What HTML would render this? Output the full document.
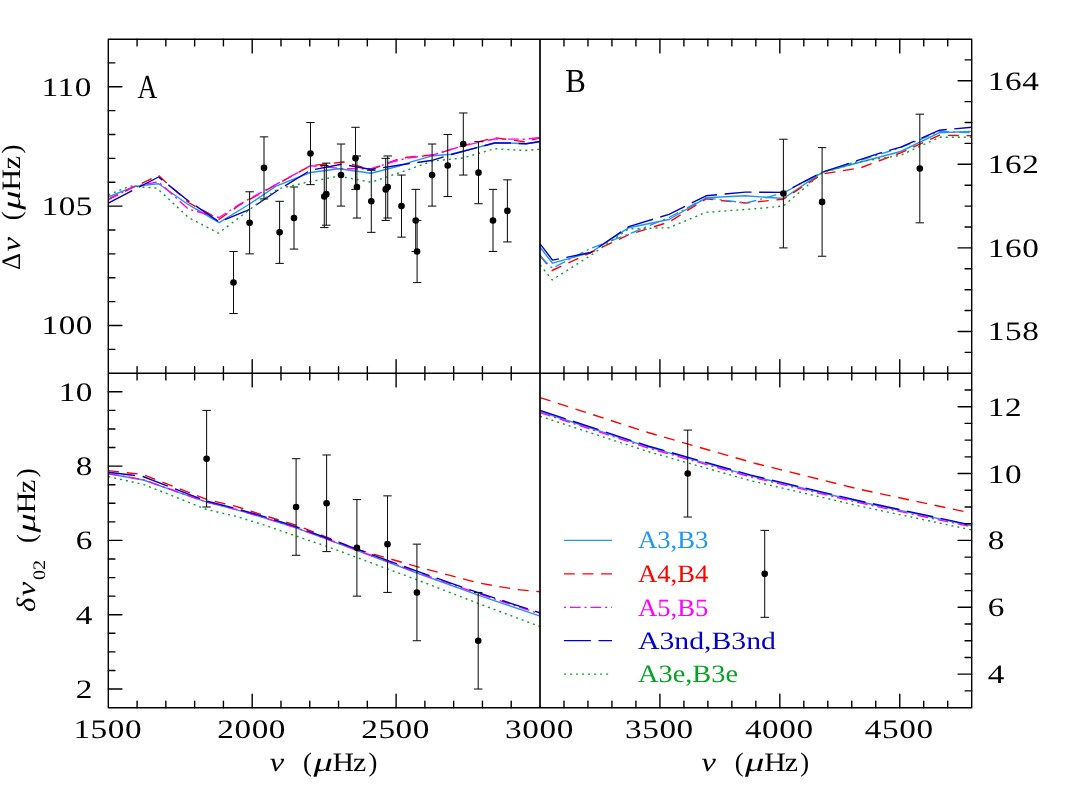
<!DOCTYPE html>
<html><head><meta charset="utf-8"><title>chart</title>
<style>
html,body{margin:0;padding:0;background:#fff;}
body{width:1067px;height:797px;overflow:hidden;font-family:"Liberation Serif",serif;}
svg{display:block;will-change:transform;opacity:0.9999;-webkit-font-smoothing:antialiased;text-rendering:geometricPrecision}
</style></head><body>
<svg width="1067" height="797" viewBox="0 0 1067 797">
<rect x="0" y="0" width="1067" height="797" fill="#fff"/>
<g>
<polyline points="108.3,197.0 134.5,186.4 158.5,183.7 188.5,204.7 219.2,222.7 249.6,204.0 276.0,186.2 310.5,172.5 339.0,168.7 371.2,173.2 400.0,165.7 412.0,161.7 433.0,155.7 451.0,154.3 494.5,143.0 509.5,143.0 526.0,143.8 540.1,141.8" fill="none" stroke="#2196F3" stroke-width="1.4" stroke-linejoin="round"/>
<polyline points="108.3,199.5 134.5,186.7 158.5,175.5 188.5,202.5 219.2,219.3 240.0,204.7 310.5,165.7 343.5,162.0 371.2,169.5 397.5,159.3 407.5,157.2 433.0,155.0 463.0,145.8 494.5,137.7 524.5,141.8 540.1,137.7" fill="none" stroke="#FF0000" stroke-width="1.4" stroke-dasharray="10.9 7.7" stroke-linejoin="round"/>
<polyline points="108.3,199.2 134.5,186.4 158.5,181.8 188.5,209.2 219.2,217.5 240.0,204.0 310.5,165.7 343.5,168.7 371.2,168.7 390.0,162.5 407.5,158.0 433.0,155.0 463.0,145.8 494.5,139.0 524.5,139.2 540.1,137.7" fill="none" stroke="#FF00FF" stroke-width="1.4" stroke-dasharray="10.7 3.9 2.1 3.9" stroke-linejoin="round"/>
<polyline points="108.3,203.2 134.5,189.5 158.5,177.0 188.5,201.0 219.2,222.0 250.0,209.2 277.5,190.5 310.5,170.2 342.0,164.2 371.2,169.5 400.0,165.0 412.0,163.2 433.0,160.2 451.5,154.5 494.5,143.0 509.5,143.0 526.0,143.8 540.1,141.5" fill="none" stroke="#0000C8" stroke-width="1.4" stroke-dasharray="27 7.6" stroke-linejoin="round"/>
<polyline points="108.3,195.0 130.0,186.0 157.0,188.2 188.5,217.5 218.5,233.2 260.0,201.7 277.5,189.0 310.5,181.5 339.0,176.2 371.2,182.2 400.0,172.5 433.0,161.0 463.0,158.0 494.5,148.7 524.5,150.5 540.1,149.3" fill="none" stroke="#0AA028" stroke-width="1.4" stroke-dasharray="2 4" stroke-linejoin="round"/>
<polyline points="540.1,247.3 552.5,263.2 590.7,252.5 628.8,227.7 669.0,219.5 706.1,197.8 745.3,195.8 783.4,198.5 822.1,172.3 900.7,151.5 939.6,132.7 971.7,131.4" fill="none" stroke="#2196F3" stroke-width="1.4" stroke-linejoin="round"/>
<polyline points="540.1,255.5 552.0,270.5 590.7,252.6 628.8,234.6 669.0,222.0 706.1,198.9 745.3,203.0 783.4,199.2 822.1,174.1 860.5,167.8 900.7,152.8 939.6,135.2 971.7,135.7" fill="none" stroke="#FF0000" stroke-width="1.4" stroke-dasharray="10.9 7.7" stroke-linejoin="round"/>
<polyline points="540.1,256.3 552.3,268.2 590.7,248.4 628.8,234.1 669.0,217.5 706.1,197.8 745.3,203.0 756.0,200.5 783.4,192.9 822.1,172.3 900.7,147.7 939.6,131.4 971.7,132.7" fill="none" stroke="#2196F3" stroke-width="1.4" stroke-dasharray="10.7 3.9 2.1 3.9" stroke-linejoin="round"/>
<polyline points="540.1,243.8 552.5,260.1 590.7,252.5 628.8,226.7 669.0,214.3 706.1,195.8 745.3,192.1 783.4,192.4 822.1,172.3 880.6,152.8 900.7,147.2 939.6,130.2 971.7,127.2" fill="none" stroke="#0000C8" stroke-width="1.4" stroke-dasharray="27 7.6" stroke-linejoin="round"/>
<polyline points="540.1,265.0 552.2,279.9 590.7,255.4 628.8,228.8 669.0,227.7 706.1,212.3 755.0,208.8 783.4,206.0 822.1,172.9 860.5,161.6 900.7,155.3 939.6,137.2 971.7,137.2" fill="none" stroke="#0AA028" stroke-width="1.4" stroke-dasharray="2 4" stroke-linejoin="round"/>
<polyline points="108.3,473.7 143.5,480.0 185.0,494.6 206.6,502.1 236.0,509.6 265.0,518.0 296.1,527.9 326.6,539.1 416.9,573.0 478.2,595.1 540.1,616.2" fill="none" stroke="#2196F3" stroke-width="1.4" stroke-linejoin="round"/>
<polyline points="108.3,470.6 142.9,474.5 206.6,499.4 236.0,506.4 265.0,515.7 296.1,525.2 326.6,537.2 356.9,549.3 416.9,566.6 478.2,582.9 515.8,589.4 540.1,591.8" fill="none" stroke="#FF0000" stroke-width="1.4" stroke-dasharray="10.9 7.7" stroke-linejoin="round"/>
<polyline points="108.3,473.5 143.5,479.8 185.0,494.4 206.6,501.9 236.0,509.4 265.0,517.8 296.1,527.7 326.6,538.9 416.9,572.2 478.2,593.6 540.1,614.0" fill="none" stroke="#FF00FF" stroke-width="1.4" stroke-dasharray="10.7 3.9 2.1 3.9" stroke-linejoin="round"/>
<polyline points="108.3,472.3 142.9,476.5 206.6,501.1 236.0,508.6 265.0,516.9 296.1,526.7 326.6,538.0 416.9,571.2 478.2,592.7 540.1,612.9" fill="none" stroke="#0000C8" stroke-width="1.4" stroke-dasharray="27 7.6" stroke-linejoin="round"/>
<polyline points="108.3,476.6 144.0,484.6 183.0,500.0 206.6,509.5 236.0,516.3 265.0,525.3 296.1,536.1 326.6,546.3 416.9,579.8 478.2,603.4 540.1,626.6" fill="none" stroke="#0AA028" stroke-width="1.4" stroke-dasharray="2 4" stroke-linejoin="round"/>
<polyline points="540.1,411.5 648.0,446.8 750.0,475.6 860.0,501.7 971.7,525.8" fill="none" stroke="#2196F3" stroke-width="1.4" stroke-linejoin="round"/>
<polyline points="540.1,397.6 648.0,432.5 754.5,463.2 860.0,489.4 971.7,513.1" fill="none" stroke="#FF0000" stroke-width="1.4" stroke-dasharray="10.9 7.7" stroke-linejoin="round"/>
<polyline points="540.1,412.6 648.0,448.0 750.0,476.8 860.0,502.9 971.7,526.9" fill="none" stroke="#FF00FF" stroke-width="1.4" stroke-dasharray="10.7 3.9 2.1 3.9" stroke-linejoin="round"/>
<polyline points="540.1,410.4 648.0,446.0 750.0,474.9 860.0,501.0 971.7,525.1" fill="none" stroke="#0000C8" stroke-width="1.4" stroke-dasharray="27 7.6" stroke-linejoin="round"/>
<polyline points="540.1,416.3 648.0,451.6 750.0,480.5 860.0,506.2 971.7,529.9" fill="none" stroke="#0AA028" stroke-width="1.4" stroke-dasharray="2 4" stroke-linejoin="round"/>
</g>
<g stroke="#111" stroke-width="1.05" fill="#000">
<line x1="233.50" y1="251.47" x2="233.50" y2="313.55" />
<line x1="229.30" y1="251.47" x2="237.70" y2="251.47" />
<line x1="229.30" y1="313.55" x2="237.70" y2="313.55" />
<circle cx="233.50" cy="282.51" r="3.3" stroke="none"/>
<line x1="249.60" y1="191.77" x2="249.60" y2="253.86" />
<line x1="245.40" y1="191.77" x2="253.80" y2="191.77" />
<line x1="245.40" y1="253.86" x2="253.80" y2="253.86" />
<circle cx="249.60" cy="222.82" r="3.3" stroke="none"/>
<line x1="264.00" y1="136.85" x2="264.00" y2="198.94" />
<line x1="259.80" y1="136.85" x2="268.20" y2="136.85" />
<line x1="259.80" y1="198.94" x2="268.20" y2="198.94" />
<circle cx="264.00" cy="167.89" r="3.3" stroke="none"/>
<line x1="279.60" y1="201.32" x2="279.60" y2="263.41" />
<line x1="275.40" y1="201.32" x2="283.80" y2="201.32" />
<line x1="275.40" y1="263.41" x2="283.80" y2="263.41" />
<circle cx="279.60" cy="232.37" r="3.3" stroke="none"/>
<line x1="294.00" y1="187.00" x2="294.00" y2="249.08" />
<line x1="289.80" y1="187.00" x2="298.20" y2="187.00" />
<line x1="289.80" y1="249.08" x2="298.20" y2="249.08" />
<circle cx="294.00" cy="218.04" r="3.3" stroke="none"/>
<line x1="310.50" y1="122.53" x2="310.50" y2="184.61" />
<line x1="306.30" y1="122.53" x2="314.70" y2="122.53" />
<line x1="306.30" y1="184.61" x2="314.70" y2="184.61" />
<circle cx="310.50" cy="153.57" r="3.3" stroke="none"/>
<line x1="324.30" y1="165.51" x2="324.30" y2="227.59" />
<line x1="320.10" y1="165.51" x2="328.50" y2="165.51" />
<line x1="320.10" y1="227.59" x2="328.50" y2="227.59" />
<circle cx="324.30" cy="196.55" r="3.3" stroke="none"/>
<line x1="326.30" y1="163.12" x2="326.30" y2="225.20" />
<line x1="322.10" y1="163.12" x2="330.50" y2="163.12" />
<line x1="322.10" y1="225.20" x2="330.50" y2="225.20" />
<circle cx="326.30" cy="194.16" r="3.3" stroke="none"/>
<line x1="341.00" y1="144.02" x2="341.00" y2="206.10" />
<line x1="336.80" y1="144.02" x2="345.20" y2="144.02" />
<line x1="336.80" y1="206.10" x2="345.20" y2="206.10" />
<circle cx="341.00" cy="175.06" r="3.3" stroke="none"/>
<line x1="355.50" y1="127.30" x2="355.50" y2="189.38" />
<line x1="351.30" y1="127.30" x2="359.70" y2="127.30" />
<line x1="351.30" y1="189.38" x2="359.70" y2="189.38" />
<circle cx="355.50" cy="158.34" r="3.3" stroke="none"/>
<line x1="356.90" y1="155.96" x2="356.90" y2="218.04" />
<line x1="352.70" y1="155.96" x2="361.10" y2="155.96" />
<line x1="352.70" y1="218.04" x2="361.10" y2="218.04" />
<circle cx="356.90" cy="187.00" r="3.3" stroke="none"/>
<line x1="371.30" y1="170.28" x2="371.30" y2="232.37" />
<line x1="367.10" y1="170.28" x2="375.50" y2="170.28" />
<line x1="367.10" y1="232.37" x2="375.50" y2="232.37" />
<circle cx="371.30" cy="201.32" r="3.3" stroke="none"/>
<line x1="385.70" y1="158.34" x2="385.70" y2="220.43" />
<line x1="381.50" y1="158.34" x2="389.90" y2="158.34" />
<line x1="381.50" y1="220.43" x2="389.90" y2="220.43" />
<circle cx="385.70" cy="189.38" r="3.3" stroke="none"/>
<line x1="387.70" y1="155.96" x2="387.70" y2="218.04" />
<line x1="383.50" y1="155.96" x2="391.90" y2="155.96" />
<line x1="383.50" y1="218.04" x2="391.90" y2="218.04" />
<circle cx="387.70" cy="187.00" r="3.3" stroke="none"/>
<line x1="401.50" y1="175.06" x2="401.50" y2="237.14" />
<line x1="397.30" y1="175.06" x2="405.70" y2="175.06" />
<line x1="397.30" y1="237.14" x2="405.70" y2="237.14" />
<circle cx="401.50" cy="206.10" r="3.3" stroke="none"/>
<line x1="415.70" y1="189.38" x2="415.70" y2="251.47" />
<line x1="411.50" y1="189.38" x2="419.90" y2="189.38" />
<line x1="411.50" y1="251.47" x2="419.90" y2="251.47" />
<circle cx="415.70" cy="220.43" r="3.3" stroke="none"/>
<line x1="417.10" y1="220.43" x2="417.10" y2="282.51" />
<line x1="412.90" y1="220.43" x2="421.30" y2="220.43" />
<line x1="412.90" y1="282.51" x2="421.30" y2="282.51" />
<circle cx="417.10" cy="251.47" r="3.3" stroke="none"/>
<line x1="432.10" y1="144.02" x2="432.10" y2="206.10" />
<line x1="427.90" y1="144.02" x2="436.30" y2="144.02" />
<line x1="427.90" y1="206.10" x2="436.30" y2="206.10" />
<circle cx="432.10" cy="175.06" r="3.3" stroke="none"/>
<line x1="447.70" y1="134.46" x2="447.70" y2="196.55" />
<line x1="443.50" y1="134.46" x2="451.90" y2="134.46" />
<line x1="443.50" y1="196.55" x2="451.90" y2="196.55" />
<circle cx="447.70" cy="165.51" r="3.3" stroke="none"/>
<line x1="463.30" y1="112.97" x2="463.30" y2="175.06" />
<line x1="459.10" y1="112.97" x2="467.50" y2="112.97" />
<line x1="459.10" y1="175.06" x2="467.50" y2="175.06" />
<circle cx="463.30" cy="144.02" r="3.3" stroke="none"/>
<line x1="478.50" y1="141.63" x2="478.50" y2="203.71" />
<line x1="474.30" y1="141.63" x2="482.70" y2="141.63" />
<line x1="474.30" y1="203.71" x2="482.70" y2="203.71" />
<circle cx="478.50" cy="172.67" r="3.3" stroke="none"/>
<line x1="493.00" y1="189.38" x2="493.00" y2="251.47" />
<line x1="488.80" y1="189.38" x2="497.20" y2="189.38" />
<line x1="488.80" y1="251.47" x2="497.20" y2="251.47" />
<circle cx="493.00" cy="220.43" r="3.3" stroke="none"/>
<line x1="507.40" y1="179.83" x2="507.40" y2="241.92" />
<line x1="503.20" y1="179.83" x2="511.60" y2="179.83" />
<line x1="503.20" y1="241.92" x2="511.60" y2="241.92" />
<circle cx="507.40" cy="210.88" r="3.3" stroke="none"/>
<line x1="783.40" y1="139.24" x2="783.40" y2="247.89" />
<line x1="779.20" y1="139.24" x2="787.60" y2="139.24" />
<line x1="779.20" y1="247.89" x2="787.60" y2="247.89" />
<circle cx="783.40" cy="193.56" r="3.3" stroke="none"/>
<line x1="822.10" y1="147.60" x2="822.10" y2="256.25" />
<line x1="817.90" y1="147.60" x2="826.30" y2="147.60" />
<line x1="817.90" y1="256.25" x2="826.30" y2="256.25" />
<circle cx="822.10" cy="201.92" r="3.3" stroke="none"/>
<line x1="919.80" y1="114.17" x2="919.80" y2="222.82" />
<line x1="915.60" y1="114.17" x2="924.00" y2="114.17" />
<line x1="915.60" y1="222.82" x2="924.00" y2="222.82" />
<circle cx="919.80" cy="168.49" r="3.3" stroke="none"/>
<line x1="206.60" y1="410.40" x2="206.60" y2="506.99" />
<line x1="202.40" y1="410.40" x2="210.80" y2="410.40" />
<line x1="202.40" y1="506.99" x2="210.80" y2="506.99" />
<circle cx="206.60" cy="458.70" r="3.3" stroke="none"/>
<line x1="296.10" y1="458.69" x2="296.10" y2="555.28" />
<line x1="291.90" y1="458.69" x2="300.30" y2="458.69" />
<line x1="291.90" y1="555.28" x2="300.30" y2="555.28" />
<circle cx="296.10" cy="506.99" r="3.3" stroke="none"/>
<line x1="326.60" y1="454.98" x2="326.60" y2="551.57" />
<line x1="322.40" y1="454.98" x2="330.80" y2="454.98" />
<line x1="322.40" y1="551.57" x2="330.80" y2="551.57" />
<circle cx="326.60" cy="503.27" r="3.3" stroke="none"/>
<line x1="356.90" y1="499.56" x2="356.90" y2="596.15" />
<line x1="352.70" y1="499.56" x2="361.10" y2="499.56" />
<line x1="352.70" y1="596.15" x2="361.10" y2="596.15" />
<circle cx="356.90" cy="547.86" r="3.3" stroke="none"/>
<line x1="387.50" y1="495.85" x2="387.50" y2="592.43" />
<line x1="383.30" y1="495.85" x2="391.70" y2="495.85" />
<line x1="383.30" y1="592.43" x2="391.70" y2="592.43" />
<circle cx="387.50" cy="544.14" r="3.3" stroke="none"/>
<line x1="416.90" y1="544.14" x2="416.90" y2="640.73" />
<line x1="412.70" y1="544.14" x2="421.10" y2="544.14" />
<line x1="412.70" y1="640.73" x2="421.10" y2="640.73" />
<circle cx="416.90" cy="592.44" r="3.3" stroke="none"/>
<line x1="478.20" y1="592.44" x2="478.20" y2="689.03" />
<line x1="474.00" y1="592.44" x2="482.40" y2="592.44" />
<line x1="474.00" y1="689.03" x2="482.40" y2="689.03" />
<circle cx="478.20" cy="640.73" r="3.3" stroke="none"/>
<line x1="687.70" y1="430.09" x2="687.70" y2="517.02" />
<line x1="683.50" y1="430.09" x2="691.90" y2="430.09" />
<line x1="683.50" y1="517.02" x2="691.90" y2="517.02" />
<circle cx="687.70" cy="473.56" r="3.3" stroke="none"/>
<line x1="764.70" y1="530.39" x2="764.70" y2="617.33" />
<line x1="760.50" y1="530.39" x2="768.90" y2="530.39" />
<line x1="760.50" y1="617.33" x2="768.90" y2="617.33" />
<circle cx="764.70" cy="573.86" r="3.3" stroke="none"/>
</g>
<g stroke="#000" stroke-width="1.4" fill="none" stroke-linecap="round">
<rect x="108.3" y="39.3" width="863.40" height="668.40" stroke-linejoin="round"/>
<line x1="540.00" y1="39.30" x2="540.00" y2="707.70" stroke-width="1.7" stroke-linecap="butt"/>
<line x1="108.30" y1="373.30" x2="971.70" y2="373.30" stroke-linecap="butt"/>
<line x1="137.08" y1="39.30" x2="137.08" y2="45.90" />
<line x1="137.08" y1="366.70" x2="137.08" y2="379.90" />
<line x1="137.08" y1="707.70" x2="137.08" y2="701.10" />
<line x1="165.86" y1="39.30" x2="165.86" y2="45.90" />
<line x1="165.86" y1="366.70" x2="165.86" y2="379.90" />
<line x1="165.86" y1="707.70" x2="165.86" y2="701.10" />
<line x1="194.64" y1="39.30" x2="194.64" y2="45.90" />
<line x1="194.64" y1="366.70" x2="194.64" y2="379.90" />
<line x1="194.64" y1="707.70" x2="194.64" y2="701.10" />
<line x1="223.42" y1="39.30" x2="223.42" y2="45.90" />
<line x1="223.42" y1="366.70" x2="223.42" y2="379.90" />
<line x1="223.42" y1="707.70" x2="223.42" y2="701.10" />
<line x1="252.20" y1="39.30" x2="252.20" y2="52.90" />
<line x1="252.20" y1="359.70" x2="252.20" y2="386.90" />
<line x1="252.20" y1="707.70" x2="252.20" y2="694.10" />
<line x1="280.98" y1="39.30" x2="280.98" y2="45.90" />
<line x1="280.98" y1="366.70" x2="280.98" y2="379.90" />
<line x1="280.98" y1="707.70" x2="280.98" y2="701.10" />
<line x1="309.76" y1="39.30" x2="309.76" y2="45.90" />
<line x1="309.76" y1="366.70" x2="309.76" y2="379.90" />
<line x1="309.76" y1="707.70" x2="309.76" y2="701.10" />
<line x1="338.54" y1="39.30" x2="338.54" y2="45.90" />
<line x1="338.54" y1="366.70" x2="338.54" y2="379.90" />
<line x1="338.54" y1="707.70" x2="338.54" y2="701.10" />
<line x1="367.32" y1="39.30" x2="367.32" y2="45.90" />
<line x1="367.32" y1="366.70" x2="367.32" y2="379.90" />
<line x1="367.32" y1="707.70" x2="367.32" y2="701.10" />
<line x1="396.10" y1="39.30" x2="396.10" y2="52.90" />
<line x1="396.10" y1="359.70" x2="396.10" y2="386.90" />
<line x1="396.10" y1="707.70" x2="396.10" y2="694.10" />
<line x1="424.88" y1="39.30" x2="424.88" y2="45.90" />
<line x1="424.88" y1="366.70" x2="424.88" y2="379.90" />
<line x1="424.88" y1="707.70" x2="424.88" y2="701.10" />
<line x1="453.66" y1="39.30" x2="453.66" y2="45.90" />
<line x1="453.66" y1="366.70" x2="453.66" y2="379.90" />
<line x1="453.66" y1="707.70" x2="453.66" y2="701.10" />
<line x1="482.44" y1="39.30" x2="482.44" y2="45.90" />
<line x1="482.44" y1="366.70" x2="482.44" y2="379.90" />
<line x1="482.44" y1="707.70" x2="482.44" y2="701.10" />
<line x1="511.22" y1="39.30" x2="511.22" y2="45.90" />
<line x1="511.22" y1="366.70" x2="511.22" y2="379.90" />
<line x1="511.22" y1="707.70" x2="511.22" y2="701.10" />
<line x1="563.98" y1="39.30" x2="563.98" y2="45.90" />
<line x1="563.98" y1="366.70" x2="563.98" y2="379.90" />
<line x1="563.98" y1="707.70" x2="563.98" y2="701.10" />
<line x1="587.97" y1="39.30" x2="587.97" y2="45.90" />
<line x1="587.97" y1="366.70" x2="587.97" y2="379.90" />
<line x1="587.97" y1="707.70" x2="587.97" y2="701.10" />
<line x1="611.95" y1="39.30" x2="611.95" y2="45.90" />
<line x1="611.95" y1="366.70" x2="611.95" y2="379.90" />
<line x1="611.95" y1="707.70" x2="611.95" y2="701.10" />
<line x1="635.93" y1="39.30" x2="635.93" y2="45.90" />
<line x1="635.93" y1="366.70" x2="635.93" y2="379.90" />
<line x1="635.93" y1="707.70" x2="635.93" y2="701.10" />
<line x1="659.92" y1="39.30" x2="659.92" y2="52.90" />
<line x1="659.92" y1="359.70" x2="659.92" y2="386.90" />
<line x1="659.92" y1="707.70" x2="659.92" y2="694.10" />
<line x1="683.90" y1="39.30" x2="683.90" y2="45.90" />
<line x1="683.90" y1="366.70" x2="683.90" y2="379.90" />
<line x1="683.90" y1="707.70" x2="683.90" y2="701.10" />
<line x1="707.88" y1="39.30" x2="707.88" y2="45.90" />
<line x1="707.88" y1="366.70" x2="707.88" y2="379.90" />
<line x1="707.88" y1="707.70" x2="707.88" y2="701.10" />
<line x1="731.87" y1="39.30" x2="731.87" y2="45.90" />
<line x1="731.87" y1="366.70" x2="731.87" y2="379.90" />
<line x1="731.87" y1="707.70" x2="731.87" y2="701.10" />
<line x1="755.85" y1="39.30" x2="755.85" y2="45.90" />
<line x1="755.85" y1="366.70" x2="755.85" y2="379.90" />
<line x1="755.85" y1="707.70" x2="755.85" y2="701.10" />
<line x1="779.83" y1="39.30" x2="779.83" y2="52.90" />
<line x1="779.83" y1="359.70" x2="779.83" y2="386.90" />
<line x1="779.83" y1="707.70" x2="779.83" y2="694.10" />
<line x1="803.82" y1="39.30" x2="803.82" y2="45.90" />
<line x1="803.82" y1="366.70" x2="803.82" y2="379.90" />
<line x1="803.82" y1="707.70" x2="803.82" y2="701.10" />
<line x1="827.80" y1="39.30" x2="827.80" y2="45.90" />
<line x1="827.80" y1="366.70" x2="827.80" y2="379.90" />
<line x1="827.80" y1="707.70" x2="827.80" y2="701.10" />
<line x1="851.78" y1="39.30" x2="851.78" y2="45.90" />
<line x1="851.78" y1="366.70" x2="851.78" y2="379.90" />
<line x1="851.78" y1="707.70" x2="851.78" y2="701.10" />
<line x1="875.77" y1="39.30" x2="875.77" y2="45.90" />
<line x1="875.77" y1="366.70" x2="875.77" y2="379.90" />
<line x1="875.77" y1="707.70" x2="875.77" y2="701.10" />
<line x1="899.75" y1="39.30" x2="899.75" y2="52.90" />
<line x1="899.75" y1="359.70" x2="899.75" y2="386.90" />
<line x1="899.75" y1="707.70" x2="899.75" y2="694.10" />
<line x1="923.73" y1="39.30" x2="923.73" y2="45.90" />
<line x1="923.73" y1="366.70" x2="923.73" y2="379.90" />
<line x1="923.73" y1="707.70" x2="923.73" y2="701.10" />
<line x1="947.72" y1="39.30" x2="947.72" y2="45.90" />
<line x1="947.72" y1="366.70" x2="947.72" y2="379.90" />
<line x1="947.72" y1="707.70" x2="947.72" y2="701.10" />
<line x1="108.30" y1="349.37" x2="114.90" y2="349.37" />
<line x1="108.30" y1="325.49" x2="121.90" y2="325.49" />
<line x1="108.30" y1="301.61" x2="114.90" y2="301.61" />
<line x1="108.30" y1="277.74" x2="114.90" y2="277.74" />
<line x1="108.30" y1="253.86" x2="114.90" y2="253.86" />
<line x1="108.30" y1="229.98" x2="114.90" y2="229.98" />
<line x1="108.30" y1="206.10" x2="121.90" y2="206.10" />
<line x1="108.30" y1="182.22" x2="114.90" y2="182.22" />
<line x1="108.30" y1="158.34" x2="114.90" y2="158.34" />
<line x1="108.30" y1="134.46" x2="114.90" y2="134.46" />
<line x1="108.30" y1="110.59" x2="114.90" y2="110.59" />
<line x1="108.30" y1="86.71" x2="121.90" y2="86.71" />
<line x1="108.30" y1="62.83" x2="114.90" y2="62.83" />
<line x1="108.30" y1="689.03" x2="121.90" y2="689.03" />
<line x1="108.30" y1="670.45" x2="114.90" y2="670.45" />
<line x1="108.30" y1="651.88" x2="114.90" y2="651.88" />
<line x1="108.30" y1="633.30" x2="114.90" y2="633.30" />
<line x1="108.30" y1="614.73" x2="121.90" y2="614.73" />
<line x1="108.30" y1="596.15" x2="114.90" y2="596.15" />
<line x1="108.30" y1="577.58" x2="114.90" y2="577.58" />
<line x1="108.30" y1="559.00" x2="114.90" y2="559.00" />
<line x1="108.30" y1="540.42" x2="121.90" y2="540.42" />
<line x1="108.30" y1="521.85" x2="114.90" y2="521.85" />
<line x1="108.30" y1="503.27" x2="114.90" y2="503.27" />
<line x1="108.30" y1="484.70" x2="114.90" y2="484.70" />
<line x1="108.30" y1="466.12" x2="121.90" y2="466.12" />
<line x1="108.30" y1="447.55" x2="114.90" y2="447.55" />
<line x1="108.30" y1="428.98" x2="114.90" y2="428.98" />
<line x1="108.30" y1="410.40" x2="114.90" y2="410.40" />
<line x1="108.30" y1="391.82" x2="121.90" y2="391.82" />
<line x1="971.70" y1="352.36" x2="965.10" y2="352.36" />
<line x1="971.70" y1="331.46" x2="958.10" y2="331.46" />
<line x1="971.70" y1="310.57" x2="965.10" y2="310.57" />
<line x1="971.70" y1="289.68" x2="965.10" y2="289.68" />
<line x1="971.70" y1="268.78" x2="965.10" y2="268.78" />
<line x1="971.70" y1="247.89" x2="958.10" y2="247.89" />
<line x1="971.70" y1="226.99" x2="965.10" y2="226.99" />
<line x1="971.70" y1="206.10" x2="965.10" y2="206.10" />
<line x1="971.70" y1="185.21" x2="965.10" y2="185.21" />
<line x1="971.70" y1="164.31" x2="958.10" y2="164.31" />
<line x1="971.70" y1="143.42" x2="965.10" y2="143.42" />
<line x1="971.70" y1="122.53" x2="965.10" y2="122.53" />
<line x1="971.70" y1="101.63" x2="965.10" y2="101.63" />
<line x1="971.70" y1="80.74" x2="958.10" y2="80.74" />
<line x1="971.70" y1="59.84" x2="965.10" y2="59.84" />
<line x1="971.70" y1="690.88" x2="965.10" y2="690.88" />
<line x1="971.70" y1="674.16" x2="958.10" y2="674.16" />
<line x1="971.70" y1="657.45" x2="965.10" y2="657.45" />
<line x1="971.70" y1="640.73" x2="965.10" y2="640.73" />
<line x1="971.70" y1="624.01" x2="965.10" y2="624.01" />
<line x1="971.70" y1="607.30" x2="958.10" y2="607.30" />
<line x1="971.70" y1="590.58" x2="965.10" y2="590.58" />
<line x1="971.70" y1="573.86" x2="965.10" y2="573.86" />
<line x1="971.70" y1="557.14" x2="965.10" y2="557.14" />
<line x1="971.70" y1="540.42" x2="958.10" y2="540.42" />
<line x1="971.70" y1="523.71" x2="965.10" y2="523.71" />
<line x1="971.70" y1="506.99" x2="965.10" y2="506.99" />
<line x1="971.70" y1="490.27" x2="965.10" y2="490.27" />
<line x1="971.70" y1="473.56" x2="958.10" y2="473.56" />
<line x1="971.70" y1="456.84" x2="965.10" y2="456.84" />
<line x1="971.70" y1="440.12" x2="965.10" y2="440.12" />
<line x1="971.70" y1="423.40" x2="965.10" y2="423.40" />
<line x1="971.70" y1="406.69" x2="958.10" y2="406.69" />
<line x1="971.70" y1="389.97" x2="965.10" y2="389.97" />
</g>
<g font-family="&quot;Liberation Serif&quot;, serif" font-size="26.6" fill="#000">
<text transform="translate(41.50,334.49) scale(1.25,1)" letter-spacing="0.45">100</text>
<text transform="translate(41.50,215.10) scale(1.25,1)" letter-spacing="0.45">105</text>
<text transform="translate(41.50,95.71) scale(1.25,1)" letter-spacing="0.45">110</text>
<text transform="translate(75.87,698.03) scale(1.25,1)" letter-spacing="0.45">2</text>
<text transform="translate(75.87,623.73) scale(1.25,1)" letter-spacing="0.45">4</text>
<text transform="translate(75.87,549.42) scale(1.25,1)" letter-spacing="0.45">6</text>
<text transform="translate(75.87,475.12) scale(1.25,1)" letter-spacing="0.45">8</text>
<text transform="translate(58.68,400.82) scale(1.25,1)" letter-spacing="0.45">10</text>
<text transform="translate(987.80,340.46) scale(1.25,1)" letter-spacing="0.45">158</text>
<text transform="translate(987.80,256.89) scale(1.25,1)" letter-spacing="0.45">160</text>
<text transform="translate(987.80,173.31) scale(1.25,1)" letter-spacing="0.45">162</text>
<text transform="translate(987.80,89.74) scale(1.25,1)" letter-spacing="0.45">164</text>
<text transform="translate(987.80,683.16) scale(1.25,1)" letter-spacing="0.45">4</text>
<text transform="translate(987.80,616.30) scale(1.25,1)" letter-spacing="0.45">6</text>
<text transform="translate(987.80,549.42) scale(1.25,1)" letter-spacing="0.45">8</text>
<text transform="translate(987.80,482.56) scale(1.25,1)" letter-spacing="0.45">10</text>
<text transform="translate(987.80,415.69) scale(1.25,1)" letter-spacing="0.45">12</text>
<text transform="translate(73.41,737.80) scale(1.25,1)" letter-spacing="0.45">1500</text>
<text transform="translate(217.31,737.80) scale(1.25,1)" letter-spacing="0.45">2000</text>
<text transform="translate(361.21,737.80) scale(1.25,1)" letter-spacing="0.45">2500</text>
<text transform="translate(505.11,737.80) scale(1.25,1)" letter-spacing="0.45">3000</text>
<text transform="translate(625.02,737.80) scale(1.25,1)" letter-spacing="0.45">3500</text>
<text transform="translate(744.94,737.80) scale(1.25,1)" letter-spacing="0.45">4000</text>
<text transform="translate(864.86,737.80) scale(1.25,1)" letter-spacing="0.45">4500</text>
</g>
<g transform="translate(324.15,771.20)" font-family="&quot;Liberation Serif&quot;, serif" font-size="26.6" fill="#000"><text transform="translate(-54.35,0) scale(1.22,1)" font-style="italic">ν</text><text transform="translate(-21.15,0) scale(1.0,1)" >(</text><text transform="translate(-10.75,0) scale(1.45,1)" font-style="italic">μ</text><text transform="translate(8.45,0) scale(1.12,1)" >H</text><text transform="translate(28.85,0) scale(1.12,1)" >z</text><text transform="translate(44.45,0) scale(1.0,1)" >)</text></g>
<g transform="translate(755.85,771.20)" font-family="&quot;Liberation Serif&quot;, serif" font-size="26.6" fill="#000"><text transform="translate(-54.35,0) scale(1.22,1)" font-style="italic">ν</text><text transform="translate(-21.15,0) scale(1.0,1)" >(</text><text transform="translate(-10.75,0) scale(1.45,1)" font-style="italic">μ</text><text transform="translate(8.45,0) scale(1.12,1)" >H</text><text transform="translate(28.85,0) scale(1.12,1)" >z</text><text transform="translate(44.45,0) scale(1.0,1)" >)</text></g>
<g transform="translate(20.30,206.10) rotate(-90)" font-family="&quot;Liberation Serif&quot;, serif" font-size="26.6" fill="#000"><text transform="translate(-63.80,0) scale(1.0,1)" >Δ</text><text transform="translate(-45.30,0) scale(1.22,1)" font-style="italic">ν</text><text transform="translate(-14.10,0) scale(1.0,1)" >(</text><text transform="translate(-3.70,0) scale(1.45,1)" font-style="italic">μ</text><text transform="translate(15.50,0) scale(1.12,1)" >H</text><text transform="translate(36.90,0) scale(1.12,1)" >z</text><text transform="translate(52.50,0) scale(1.0,1)" >)</text></g>
<g transform="translate(35.20,540.42) rotate(-90)" font-family="&quot;Liberation Serif&quot;, serif" font-size="26.6" fill="#000"><text transform="translate(-71.55,0) scale(1.15,1)" font-style="italic">δ</text><text transform="translate(-55.75,0) scale(1.22,1)" font-style="italic">ν</text><text transform="translate(-39.55,0) scale(1.15,1)" font-size="17.5"><tspan dy="9.3">0</tspan></text><text transform="translate(-29.55,0) scale(1.15,1)" font-size="17.5"><tspan dy="9.3">2</tspan></text><text transform="translate(-2.55,0) scale(1.0,1)" >(</text><text transform="translate(7.85,0) scale(1.45,1)" font-style="italic">μ</text><text transform="translate(27.05,0) scale(1.12,1)" >H</text><text transform="translate(47.45,0) scale(1.12,1)" >z</text><text transform="translate(63.05,0) scale(1.0,1)" >)</text></g>
<g font-family="&quot;Liberation Serif&quot;, serif" font-size="33.6" fill="#000">
<text x="137.5" y="97.85" textLength="19.8" lengthAdjust="spacingAndGlyphs">A</text>
<text x="565.2" y="91.8" textLength="20.6" lengthAdjust="spacingAndGlyphs">B</text>
</g>
<line x1="563.9" y1="540.3" x2="612.0" y2="540.3" stroke="#2196F3" stroke-width="1.25"/>
<text x="638.0" y="548.40" font-family="&quot;Liberation Serif&quot;, serif" font-size="24.9" fill="#2196F3" textLength="70.4" lengthAdjust="spacingAndGlyphs">A3,B3</text>
<line x1="563.9" y1="573.9" x2="612.0" y2="573.9" stroke="#FF0000" stroke-width="1.25" stroke-dasharray="10.9 7.7" stroke-dashoffset="0"/>
<text x="638.0" y="582.00" font-family="&quot;Liberation Serif&quot;, serif" font-size="24.9" fill="#FF0000" textLength="70.4" lengthAdjust="spacingAndGlyphs">A4,B4</text>
<line x1="563.9" y1="607.4" x2="612.0" y2="607.4" stroke="#FF00FF" stroke-width="1.25" stroke-dasharray="10.7 3.9 2.1 3.9" stroke-dashoffset="14.6"/>
<text x="638.0" y="615.50" font-family="&quot;Liberation Serif&quot;, serif" font-size="24.9" fill="#FF00FF" textLength="70.4" lengthAdjust="spacingAndGlyphs">A5,B5</text>
<line x1="563.9" y1="640.6" x2="612.0" y2="640.6" stroke="#0000C8" stroke-width="1.25" stroke-dasharray="27 7.6" stroke-dashoffset="0"/>
<text x="638.0" y="648.70" font-family="&quot;Liberation Serif&quot;, serif" font-size="24.9" fill="#0000C8" textLength="138.0" lengthAdjust="spacingAndGlyphs">A3nd,B3nd</text>
<line x1="563.9" y1="674.0" x2="612.0" y2="674.0" stroke="#0AA028" stroke-width="1.25" stroke-dasharray="2 4" stroke-dashoffset="-0.2"/>
<text x="638.0" y="682.10" font-family="&quot;Liberation Serif&quot;, serif" font-size="24.9" fill="#0AA028" textLength="100.0" lengthAdjust="spacingAndGlyphs">A3e,B3e</text>
</svg>
</body></html>
